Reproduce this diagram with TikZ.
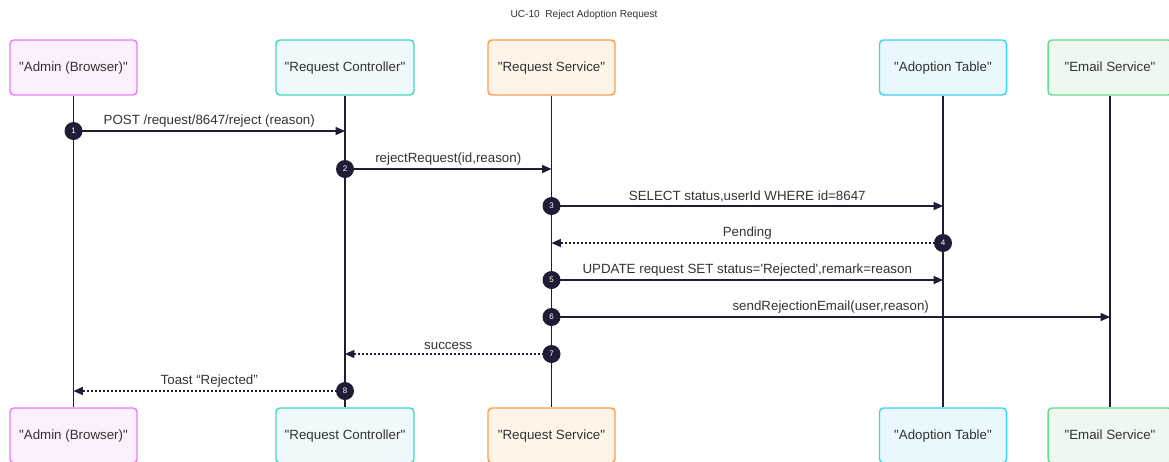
\documentclass[tikz,border=0pt]{standalone}
\usepackage{fontspec}
\setmainfont{Liberation Sans}
\usetikzlibrary{arrows.meta}

\definecolor{inkc}{HTML}{1F1D36}
\definecolor{txtc}{HTML}{333333}
\definecolor{adminline}{HTML}{EA7CF6}
\definecolor{adminfill}{HTML}{FDF0FE}
\definecolor{ctrlline}{HTML}{45D6C4}
\definecolor{ctrlfill}{HTML}{EFF8FA}
\definecolor{svcline}{HTML}{FB9C52}
\definecolor{svcfill}{HTML}{FEF4E8}
\definecolor{tableline}{HTML}{3ED4EE}
\definecolor{tablefill}{HTML}{E9F8FD}
\definecolor{mailline}{HTML}{66DB8F}
\definecolor{mailfill}{HTML}{EEF8EF}

\pgfdeclarelayer{back}
\pgfsetlayers{back,main}

\begin{document}
\begin{tikzpicture}[x=0.75pt,y=0.75pt,yscale=-1,xscale=1,
  actor/.style={rounded corners=3pt, line width=1.1pt, minimum height=41.25pt, text height=7.5pt, text depth=2pt, font=\fontsize{10}{12}\selectfont, text=txtc},
  life/.style={draw=inkc, line width=1.1pt},
  msg/.style={draw=inkc, line width=1pt, -{Triangle[length=7pt,width=6pt]}},
  reply/.style={msg, dash pattern=on 1.5pt off 1.5pt},
  seqno/.style={circle, fill=inkc, text=white, inner sep=0pt, minimum size=13.5pt, font=\fontsize{6}{6}\selectfont},
  lbl/.style={font=\fontsize{10}{12}\selectfont, text=txtc, inner sep=0pt, anchor=south, yshift=2.5pt}
]
\useasboundingbox (0,0) rectangle (1169,461);

% Title
\node (title) at (584,15) [font=\fontsize{7.6}{9}\selectfont, text=txtc] {UC-10\ \ Reject Adoption Request};

% Participants, top row
\node (adminT) at (73.5,67.5) [actor, draw=adminline, fill=adminfill, minimum width=95.25pt] {\textquotedbl Admin (Browser)\textquotedbl};
\node (ctrlT) at (345,67.5) [actor, draw=ctrlline, fill=ctrlfill, minimum width=103.5pt] {\textquotedbl Request Controller\textquotedbl};
\node (svcT) at (551.5,67.5) [actor, draw=svcline, fill=svcfill, minimum width=95.25pt] {\textquotedbl Request Service\textquotedbl};
\node (tableT) at (943,67.5) [actor, draw=tableline, fill=tablefill, minimum width=95.25pt] {\textquotedbl Adoption Table\textquotedbl};
\node (mailT) at (1110,67.5) [actor, draw=mailline, fill=mailfill, minimum width=93pt] {\textquotedbl Email Service\textquotedbl};

% Participants, bottom row
\node (adminB) at (73.5,435.5) [actor, draw=adminline, fill=adminfill, minimum width=95.25pt] {\textquotedbl Admin (Browser)\textquotedbl};
\node (ctrlB) at (345,435.5) [actor, draw=ctrlline, fill=ctrlfill, minimum width=103.5pt] {\textquotedbl Request Controller\textquotedbl};
\node (svcB) at (551.5,435.5) [actor, draw=svcline, fill=svcfill, minimum width=95.25pt] {\textquotedbl Request Service\textquotedbl};
\node (tableB) at (943,435.5) [actor, draw=tableline, fill=tablefill, minimum width=95.25pt] {\textquotedbl Adoption Table\textquotedbl};
\node (mailB) at (1110,435.5) [actor, draw=mailline, fill=mailfill, minimum width=93pt] {\textquotedbl Email Service\textquotedbl};

% Step markers
\node (n1) at (73.5,131) [seqno] {1};
\node (n2) at (345,169) [seqno] {2};
\node (n3) at (551.5,206) [seqno] {3};
\node (n4) at (943,243) [seqno] {4};
\node (n5) at (551.5,280) [seqno] {5};
\node (n6) at (551.5,317) [seqno] {6};
\node (n7) at (551.5,354) [seqno] {7};
\node (n8) at (345,391) [seqno] {8};

\begin{pgfonlayer}{back}
% Lifelines
\draw[life] (adminT.south) -- (adminB.north);
\draw[life] (ctrlT.south) -- (ctrlB.north);
\draw[life] (svcT.south) -- (svcB.north);
\draw[life] (tableT.south) -- (tableB.north);
\draw[life] (mailT.south) -- (mailB.north);

% Messages
\draw[msg] (n1.center) -- (ctrlT |- n1) node[lbl, midway] {POST /request/8647/reject (reason)};
\draw[msg] (n2.center) -- (svcT |- n2) node[lbl, midway] {rejectRequest(id,reason)};
\draw[msg] (n3.center) -- (tableT |- n3) node[lbl, midway] {SELECT status,userId WHERE id=8647};
\draw[reply] (n4.center) -- (svcT |- n4) node[lbl, midway] {Pending};
\draw[msg] (n5.center) -- (tableT |- n5) node[lbl, midway] {UPDATE request SET status=\textquotesingle Rejected\textquotesingle,remark=reason};
\draw[msg] (n6.center) -- (mailT |- n6) node[lbl, midway] {sendRejectionEmail(user,reason)};
\draw[reply] (n7.center) -- (ctrlT |- n7) node[lbl, midway] {success};
\draw[reply] (n8.center) -- (adminT |- n8) node[lbl, midway] {Toast “Rejected”};
\end{pgfonlayer}

\end{tikzpicture}
\end{document}
